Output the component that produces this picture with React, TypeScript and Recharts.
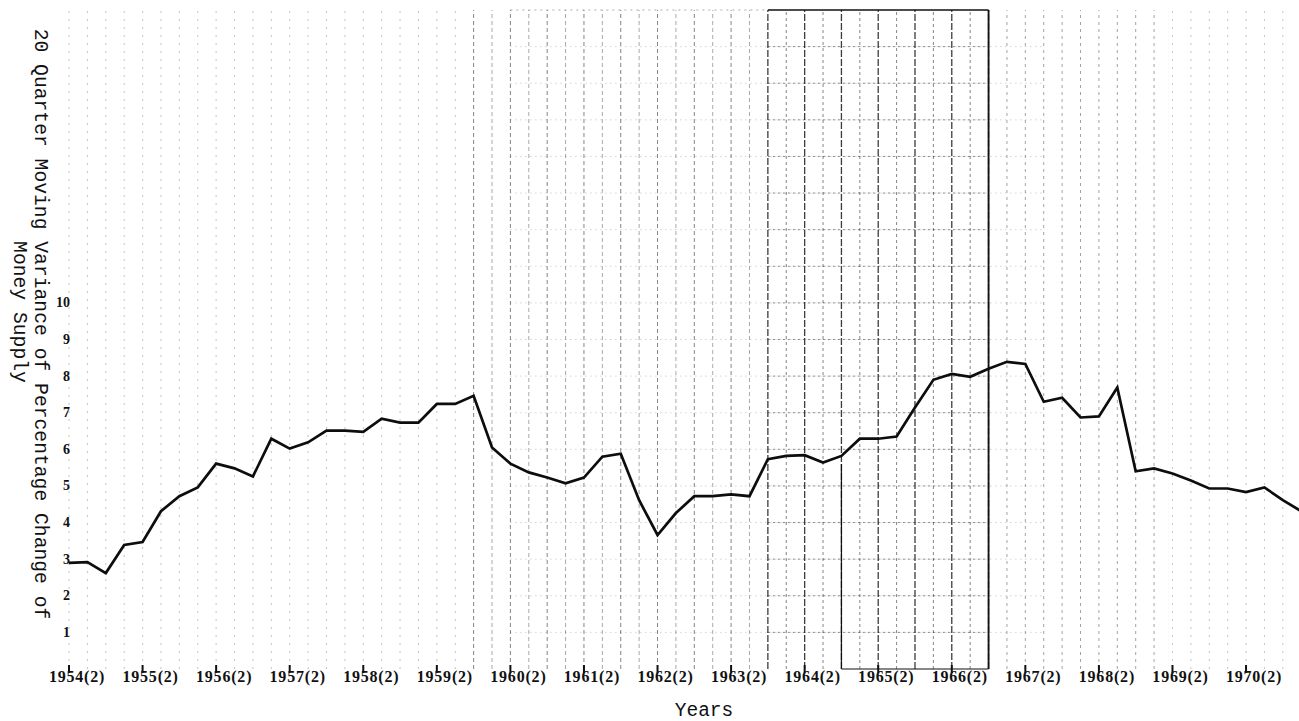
import React from 'react';
import { LineChart, Line, XAxis, YAxis, ReferenceLine } from 'recharts';

// 20 quarter moving variance, one value per quarter starting 1954 Q2
const VARIANCE = [
  2.9, 2.92, 2.62, 3.39, 3.47, 4.31, 4.72, 4.96, 5.61, 5.48,
  5.26, 6.29, 6.02, 6.19, 6.51, 6.51, 6.48, 6.84, 6.73, 6.73,
  7.24, 7.24, 7.46, 6.05, 5.61, 5.37, 5.23, 5.07, 5.23, 5.8,
  5.88, 4.61, 3.66, 4.26, 4.72, 4.72, 4.77, 4.72, 5.73, 5.82,
  5.84, 5.64, 5.82, 6.29, 6.29, 6.35, 7.14, 7.9, 8.06, 7.98,
  8.2, 8.39, 8.33, 7.3, 7.41, 6.87, 6.9, 7.69, 5.4, 5.48,
  5.34, 5.15, 4.93, 4.93, 4.83, 4.96, 4.61, 4.31,
];

const YEAR_TICKS = [
  '1954(2)', '1955(2)', '1956(2)', '1957(2)', '1958(2)', '1959(2)',
  '1960(2)', '1961(2)', '1962(2)', '1963(2)', '1964(2)', '1965(2)',
  '1966(2)', '1967(2)', '1968(2)', '1969(2)', '1970(2)',
];

const Y_TICKS = [1, 2, 3, 4, 5, 6, 7, 8, 9, 10];
const GRID_ROWS = [1, 2, 3, 4, 5, 6, 7, 8, 9, 10, 11, 12, 13, 14, 15, 16, 17];

const data = VARIANCE.map((v, i) => ({ q: i, v }));
const xTicks = YEAR_TICKS.map((_, k) => k * 4);
const gridCols = data.slice(0, 67).map(d => d.q);

const vGrid = (i: number) => {
  if (i >= 38 && i <= 50) {
    return i % 2 === 0
      ? { stroke: '#1a1a1a', dash: '7 2', op: 0.85, w: 1.3 }
      : { stroke: '#333', dash: '3 3', op: 0.6, w: 1 };
  }
  if (i >= 22 && i < 38) {
    return { stroke: '#333', dash: '4 3', op: i % 2 === 0 ? 0.6 : 0.42, w: 1 };
  }
  if (i > 50 && i < 60) return { stroke: '#333', dash: '3 4', op: 0.45, w: 1 };
  return { stroke: '#444', dash: '2 6', op: 0.32, w: 1 };
};

const YTick = (props: any) => {
  const { x, y, payload } = props;
  return (
    <text x={x + 10} y={y} textAnchor="end" dominantBaseline="central"
      fontFamily="'Liberation Serif', serif" fontWeight={700} fontSize={14} fill="#111">
      {payload.value}
    </text>
  );
};

const XTick = (props: any) => {
  const { x, y, payload } = props;
  return (
    <g>
      <line x1={x} x2={x} y1={y - 4} y2={y + 4} stroke="#111" strokeWidth={2} />
      <text x={x + 8} y={y + 13} textAnchor="middle" letterSpacing={0.8}
        fontFamily="'Liberation Serif', serif" fontWeight={700} fontSize={16} fill="#111">
        {YEAR_TICKS[payload.value / 4]}
      </text>
    </g>
  );
};

const mono = "'Liberation Mono', 'DejaVu Sans Mono', monospace";

export default function App() {
  return (
    <div style={{ position: 'absolute', left: 0, top: 0, width: 1299, height: 721, background: '#fff' }}>
      <LineChart width={1299} height={721} data={data}
        margin={{ top: 10, right: 0, left: 0, bottom: 0 }}>
        <XAxis
          dataKey="q"
          type="number"
          domain={[-0.49, 66.88]}
          allowDataOverflow
          ticks={xTicks}
          height={52}
          axisLine={false}
          tickLine={false}
          tickSize={0}
          tickMargin={0}
          tick={<XTick />}
          interval={0}
        />
        <YAxis
          type="number"
          domain={[0, 18]}
          ticks={Y_TICKS}
          width={60}
          axisLine={false}
          tickLine={false}
          tickSize={0}
          tickMargin={0}
          tick={<YTick />}
          interval={0}
        />

        {gridCols.map(i => {
          const s = vGrid(i);
          return (
            <ReferenceLine key={`v${i}`} x={i} stroke={s.stroke} strokeDasharray={s.dash}
              strokeOpacity={s.op} strokeWidth={s.w} />
          );
        })}

        {GRID_ROWS.map(r => (
          <ReferenceLine key={`h${r}`} segment={[{ x: 24, y: r }, { x: 53, y: r }]}
            stroke="#444" strokeDasharray="1 4" strokeOpacity={0.35} />
        ))}
        {GRID_ROWS.map(r => (
          <ReferenceLine key={`hd${r}`} segment={[{ x: 38, y: r }, { x: 50, y: r }]}
            stroke="#222" strokeDasharray="2 3" strokeOpacity={0.55} />
        ))}

        <ReferenceLine segment={[{ x: 24, y: 18 }, { x: 38, y: 18 }]} stroke="#444" strokeDasharray="2 4" strokeOpacity={0.45} />
        <ReferenceLine segment={[{ x: 38, y: 18 }, { x: 50, y: 18 }]} stroke="#111" strokeWidth={1.4} />
        <ReferenceLine segment={[{ x: 50, y: 0 }, { x: 50, y: 18 }]} stroke="#111" strokeWidth={1.8} />
        <ReferenceLine segment={[{ x: 42, y: 0 }, { x: 50, y: 0 }]} stroke="#111" strokeWidth={1.2} />
        <ReferenceLine segment={[{ x: 42, y: 0 }, { x: 42, y: 5.6 }]} stroke="#111" strokeWidth={1.2} />

        <Line
          type="linear"
          dataKey="v"
          stroke="#0d0d0d"
          strokeWidth={2.7}
          dot={false}
          activeDot={false}
          isAnimationActive={false}
        />
      </LineChart>

      <svg width={1299} height={721} style={{ position: 'absolute', left: 0, top: 0, pointerEvents: 'none' }}>
        <text x={40} y={324} transform="rotate(90 40 324)" textAnchor="middle" dominantBaseline="central"
          fontFamily={mono} fontSize={19.7} fill="#111">
          20 Quarter Moving Variance of Percentage Change of
        </text>
        <text x={19} y={312} transform="rotate(90 19 312)" textAnchor="middle" dominantBaseline="central"
          fontFamily={mono} fontSize={19.7} fill="#111">
          Money Supply
        </text>
        <text x={704} y={716} textAnchor="middle" fontFamily={mono} fontSize={19.5} fill="#111">
          Years
        </text>
      </svg>
    </div>
  );
}
